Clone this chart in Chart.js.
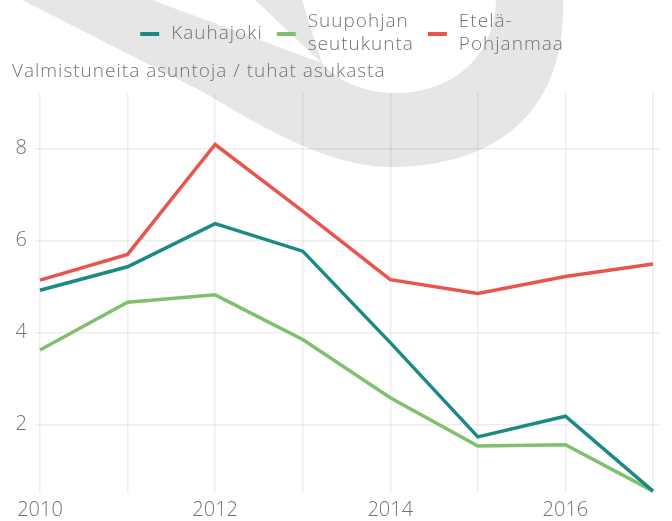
<!DOCTYPE html>
<html>
<head>
<meta charset="utf-8">
<script src="https://cdn.jsdelivr.net/npm/chart.js@4.4.1/dist/chart.umd.min.js"></script>
<style>
  html, body { margin: 0; padding: 0; background: #fff; }
  #wrap { width: 672px; height: 521px; }
</style>
</head>
<body>
<div id="wrap"><canvas id="chart" width="672" height="521"></canvas></div>
<script>
// Data
const years = [2010, 2011, 2012, 2013, 2014, 2015, 2016, 2017];
const kauhajoki = [4.92, 5.43, 6.37, 5.77, 3.78, 1.73, 2.18, 0.55];
const suupohja = [3.62, 4.66, 4.82, 3.85, 2.58, 1.53, 1.56, 0.55];
const etelaPohjanmaa = [5.14, 5.70, 8.09, 6.64, 5.15, 4.85, 5.22, 5.49];
const yTicks = [2, 4, 6, 8];
const xTickLabels = [2010, 2012, 2014, 2016];
const seriesNames = [['Kauhajoki'], ['Suupohjan', 'seutukunta'], ['Etelä-', 'Pohjanmaa']];
const yTitle = 'Valmistuneita asuntoja / tuhat asukasta';

const colors = ['#1b8a83', '#80c06c', '#e9544c'];
const textColor = '#737373';
const fontFamily = '"Open Sans", Lato, sans-serif';

function toPoints(values) {
    return years.map((year, i) => ({ x: year, y: values[i] }));
}

// Grey swoosh watermark behind the plot
const watermark = {
    id: 'watermark',
    beforeDraw(chart) {
        const ctx = chart.ctx;
        ctx.save();
        ctx.fillStyle = '#e6e6e6';
        ctx.beginPath();
        // outer outline
        ctx.moveTo(22, 0);
        ctx.lineTo(563, 0);
        ctx.bezierCurveTo(566, 90, 520, 162, 400, 167);
        ctx.bezierCurveTo(345, 169, 290, 145, 205, 93);
        ctx.lineTo(22, 0);
        ctx.closePath();
        // wedge hole
        ctx.moveTo(152, 0);
        ctx.lineTo(255, 0);
        ctx.lineTo(322, 63);
        ctx.closePath();
        // inner hole of the U
        ctx.moveTo(302, 0);
        ctx.lineTo(496, 0);
        ctx.bezierCurveTo(494, 60, 450, 93, 395, 93);
        ctx.bezierCurveTo(360, 93, 335, 78, 322, 63);
        ctx.closePath();
        ctx.fill('evenodd');
        ctx.restore();
    }
};

// Legend with wrapped labels and the axis title
const headerText = {
    id: 'headerText',
    afterDraw(chart) {
        const ctx = chart.ctx;
        ctx.save();
        ctx.font = '300 19px ' + fontFamily;
        ctx.letterSpacing = '1px';
        ctx.fillStyle = textColor;
        ctx.textBaseline = 'alphabetic';
        ctx.fillText(yTitle, 12, 77);

        const dash = 19, gapText = 12, gapItem = 14;
        const widths = seriesNames.map(lines => Math.max(...lines.map(l => ctx.measureText(l).width)));
        let total = 0;
        widths.forEach((w, i) => { total += dash + gapText + w + (i < widths.length - 1 ? gapItem : 0); });
        let x = 352 - total / 2;
        chart.data.datasets.forEach((ds, i) => {
            ctx.fillStyle = ds.borderColor;
            ctx.fillRect(x, 32, dash, 4);
            ctx.fillStyle = textColor;
            const lines = seriesNames[i];
            ctx.textBaseline = 'middle';
            if (lines.length === 1) {
                ctx.fillText(lines[0], x + dash + gapText, 34);
            } else {
                ctx.fillText(lines[0], x + dash + gapText, 22);
                ctx.fillText(lines[1], x + dash + gapText, 45);
            }
            x += dash + gapText + widths[i] + gapItem;
        });
        ctx.restore();
    }
};

const ctx = document.getElementById('chart').getContext('2d');
new Chart(ctx, {
    type: 'line',
    data: {
        datasets: [
            { label: seriesNames[0].join(' '), data: toPoints(kauhajoki), borderColor: colors[0] },
            { label: seriesNames[1].join(' '), data: toPoints(suupohja), borderColor: colors[1] },
            { label: seriesNames[2].join(' '), data: toPoints(etelaPohjanmaa), borderColor: colors[2] }
        ]
    },
    options: {
        responsive: false,
        animation: false,
        layout: { padding: { top: 93, right: 12, left: 0, bottom: 0 } },
        elements: {
            line: { borderWidth: 3.5, tension: 0, fill: false, borderCapStyle: 'butt' },
            point: { radius: 0 }
        },
        plugins: {
            legend: { display: false },
            title: { display: false },
            tooltip: { enabled: false }
        },
        scales: {
            x: {
                type: 'linear',
                min: 2010 - 0.057,
                max: 2017 + 0.08,
                afterBuildTicks: scale => { scale.ticks = years.map(v => ({ value: v })); },
                afterFit: scale => { scale.height = 28; },
                border: { display: false },
                grid: { color: 'rgba(0,0,0,0.065)', lineWidth: 1.5, drawTicks: false },
                ticks: {
                    padding: 5,
                    color: textColor,
                    font: { family: fontFamily, size: 20, weight: '300' },
                    maxRotation: 0,
                    autoSkip: false,
                    callback: value => xTickLabels.includes(value) ? String(value) : ''
                }
            },
            y: {
                min: 0.51,
                max: 9.21,
                afterBuildTicks: scale => { scale.ticks = yTicks.map(v => ({ value: v })); },
                afterFit: scale => { scale.width = 35; },
                border: { display: false },
                grid: { color: 'rgba(0,0,0,0.065)', lineWidth: 1.5, drawTicks: false },
                ticks: {
                    padding: 8,
                    color: textColor,
                    font: { family: fontFamily, size: 20, weight: '300' }
                }
            }
        }
    },
    plugins: [watermark, headerText]
});
</script>
</body>
</html>
